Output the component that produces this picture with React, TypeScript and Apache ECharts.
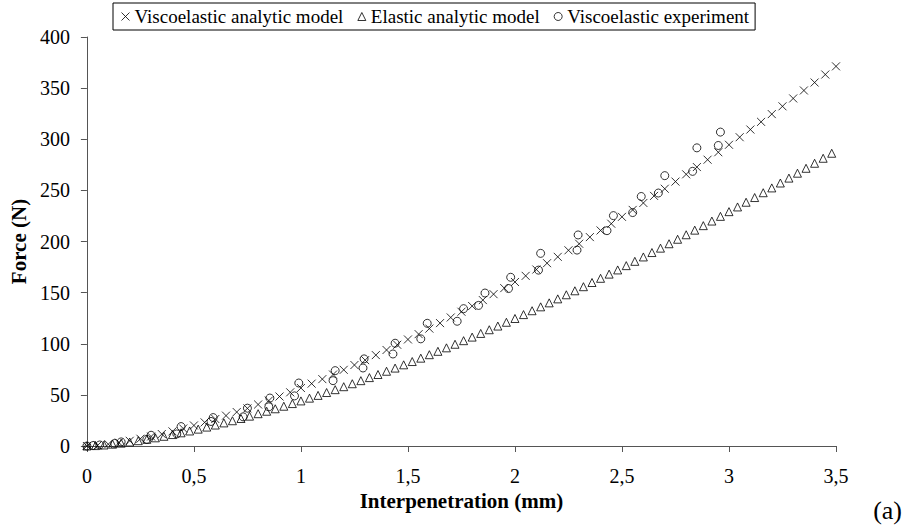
import React, { useEffect, useRef } from "react";
import * as echarts from "echarts";

// Viscoelastic analytic model (crosses), x step 0.05 mm
const viscoX = [
  0, 0.05, 0.1, 0.15, 0.2, 0.25, 0.3, 0.35, 0.4, 0.45, 0.5, 0.55, 0.6, 0.65, 0.7, 0.75, 0.8, 0.85, 0.9, 0.95,
  1, 1.05, 1.1, 1.15, 1.2, 1.25, 1.3, 1.35, 1.4, 1.45, 1.5, 1.55, 1.6, 1.65, 1.7, 1.75, 1.8, 1.85, 1.9, 1.95,
  2, 2.05, 2.1, 2.15, 2.2, 2.25, 2.3, 2.35, 2.4, 2.45, 2.5, 2.55, 2.6, 2.65, 2.7, 2.75, 2.8, 2.85, 2.9, 2.95,
  3, 3.05, 3.1, 3.15, 3.2, 3.25, 3.3, 3.35, 3.4, 3.45, 3.5,
];
const viscoF = [
  0, 0.6, 1.8, 3.3, 5.1, 7.1, 9.3, 11.7, 14.3, 17.1, 20.1, 23.1, 26.4, 29.7, 33.2, 36.8, 40.6, 44.4, 48.4, 52.5,
  56.7, 61.0, 65.4, 69.9, 74.5, 79.2, 84.0, 88.9, 93.9, 99.0, 104.2, 109.4, 114.8, 120.2, 125.7, 131.3, 136.9, 142.7, 148.5, 154.4,
  160.4, 166.4, 172.6, 178.8, 185.0, 191.4, 197.8, 204.3, 210.8, 217.4, 224.1, 230.9, 237.7, 244.6, 251.6, 258.6, 265.7, 272.8, 280.0, 287.3,
  294.6, 302.0, 309.5, 317.0, 324.6, 332.2, 339.9, 347.7, 355.5, 363.3, 371.3,
];

// Elastic analytic model (triangles), x step 0.04 mm
const elasticX = [
  0, 0.04, 0.08, 0.12, 0.16, 0.2, 0.24, 0.28, 0.32, 0.36, 0.4, 0.44, 0.48, 0.52, 0.56, 0.6, 0.64, 0.68, 0.72, 0.76,
  0.8, 0.84, 0.88, 0.92, 0.96, 1, 1.04, 1.08, 1.12, 1.16, 1.2, 1.24, 1.28, 1.32, 1.36, 1.4, 1.44, 1.48, 1.52, 1.56,
  1.6, 1.64, 1.68, 1.72, 1.76, 1.8, 1.84, 1.88, 1.92, 1.96, 2, 2.04, 2.08, 2.12, 2.16, 2.2, 2.24, 2.28, 2.32, 2.36,
  2.4, 2.44, 2.48, 2.52, 2.56, 2.6, 2.64, 2.68, 2.72, 2.76, 2.8, 2.84, 2.88, 2.92, 2.96, 3, 3.04, 3.08, 3.12, 3.16,
  3.2, 3.24, 3.28, 3.32, 3.36, 3.4, 3.44, 3.48,
];
const elasticF = [
  0, 0.4, 1.0, 1.8, 2.8, 3.9, 5.2, 6.5, 8.0, 9.5, 11.2, 12.9, 14.7, 16.5, 18.5, 20.5, 22.6, 24.7, 26.9, 29.2,
  31.6, 34.0, 36.4, 38.9, 41.5, 44.1, 46.8, 49.5, 52.3, 55.1, 58.0, 60.9, 63.9, 66.9, 69.9, 73.1, 76.2, 79.4, 82.6, 85.9,
  89.3, 92.6, 96.0, 99.5, 103.0, 106.5, 110.1, 113.7, 117.3, 121.0, 124.7, 128.5, 132.3, 136.1, 140.0, 143.9, 147.9, 151.8, 155.8, 159.9,
  164.0, 168.1, 172.2, 176.4, 180.6, 184.9, 189.2, 193.5, 197.8, 202.2, 206.6, 211.1, 215.5, 220.0, 224.6, 229.2, 233.8, 238.4, 243.0, 247.7,
  252.4, 257.2, 262.0, 266.8, 271.6, 276.5, 281.4, 286.3,
];

// Viscoelastic experiment (circles)
const expX = [
  0, 0.03, 0.06, 0.13, 0.16, 0.28, 0.3, 0.42, 0.44, 0.58, 0.59, 0.73, 0.75, 0.85, 0.855, 0.97, 0.99,
  1.15, 1.16, 1.29, 1.295, 1.43, 1.44, 1.56, 1.59, 1.73, 1.76, 1.83, 1.86, 1.97, 1.98, 2.11, 2.12,
  2.29, 2.295, 2.43, 2.46, 2.55, 2.59, 2.67, 2.7, 2.83, 2.85, 2.95, 2.96,
];
const expF = [
  0, 0.5, 1, 2.5, 4, 6.5, 10.5, 11.8, 19, 24, 27.8, 28.5, 37, 38.3, 46.9, 49, 61.6,
  63.9, 73.7, 76.3, 85.2, 90, 100.5, 104.8, 120, 122, 134.3, 137.5, 149.6, 154, 165, 172, 188.4,
  191.6, 206.4, 210.6, 225.3, 228.3, 244, 247.4, 264.4, 268.6, 291.6, 293.9, 307,
];

const xTicks = [0, 0.5, 1, 1.5, 2, 2.5, 3, 3.5];
const yTicks = [0, 50, 100, 150, 200, 250, 300, 350, 400];

const seriesNames = ["Viscoelastic analytic model", "Elastic analytic model", "Viscoelastic experiment"];

const FONT = '"Liberation Serif", "Times New Roman", Tinos, "DejaVu Serif", serif';
const CROSS = "path://M0,0L10,10M0,10L10,0";

const zip = (xs: number[], ys: number[]) => xs.map((x, i) => [x, ys[i]]);

export default function App() {
  const ref = useRef<HTMLDivElement>(null);
  useEffect(() => {
    if (!ref.current) return;
    const chart = echarts.init(ref.current, null, { renderer: "svg" });
    const hollow = { color: "none", borderColor: "#000", borderWidth: 1 };
    chart.setOption({
      animation: false,
      backgroundColor: "#fff",
      textStyle: { fontFamily: FONT, color: "#000" },
      grid: { left: 86, right: 69, top: 37, bottom: 83, containLabel: false },
      legend: {
        left: 113,
        top: 3,
        padding: [4, 6, 4, 6],
        borderColor: "#000",
        borderWidth: 1,
        itemGap: 12,
        itemWidth: 8,
        itemHeight: 8,
        textStyle: { fontFamily: FONT, fontSize: 19, color: "#000" },
        data: [
          { name: seriesNames[0], icon: CROSS, itemStyle: hollow },
          { name: seriesNames[1], icon: "triangle", itemStyle: hollow },
          { name: seriesNames[2], icon: "circle", itemStyle: hollow },
        ],
      },
      xAxis: {
        type: "value",
        min: xTicks[0],
        max: xTicks[xTicks.length - 1],
        interval: 0.5,
        name: "Interpenetration (mm)",
        nameLocation: "middle",
        nameGap: 39,
        nameTextStyle: { fontFamily: FONT, fontSize: 21, fontWeight: "bold", color: "#000" },
        axisLine: { show: true, onZero: false, lineStyle: { color: "#555", width: 1 } },
        axisTick: { show: true, inside: false, length: 6, lineStyle: { color: "#555" } },
        axisLabel: {
          fontFamily: FONT,
          fontSize: 20,
          color: "#000",
          margin: 20,
          formatter: (v: number) => String(v).replace(".", ","),
        },
        splitLine: { show: false },
      },
      yAxis: {
        type: "value",
        min: yTicks[0],
        max: yTicks[yTicks.length - 1],
        interval: 50,
        name: "Force (N)",
        nameLocation: "middle",
        nameGap: 50,
        nameRotate: 90,
        nameTextStyle: { fontFamily: FONT, fontSize: 21, fontWeight: "bold", color: "#000" },
        axisLine: { show: true, lineStyle: { color: "#555", width: 1 } },
        axisTick: { show: true, inside: false, length: 6, lineStyle: { color: "#555" } },
        axisLabel: { fontFamily: FONT, fontSize: 20, color: "#000", margin: 17 },
        splitLine: { show: false },
      },
      series: [
        {
          name: seriesNames[0],
          type: "scatter",
          symbol: CROSS,
          symbolSize: 8,
          itemStyle: hollow,
          data: zip(viscoX, viscoF),
          z: 3,
        },
        {
          name: seriesNames[1],
          type: "scatter",
          symbol: "triangle",
          symbolSize: 8,
          itemStyle: hollow,
          data: zip(elasticX, elasticF),
          z: 2,
        },
        {
          name: seriesNames[2],
          type: "scatter",
          symbol: "circle",
          symbolSize: 8,
          itemStyle: hollow,
          data: zip(expX, expF),
          z: 4,
        },
      ],
      graphic: [
        {
          type: "text",
          right: 3,
          top: 497,
          style: { text: "(a)", fontFamily: FONT, fontSize: 26, fill: "#000" },
        },
      ],
    });
    return () => chart.dispose();
  }, []);
  return (
    <div
      ref={ref}
      style={{ position: "fixed", left: 0, top: 0, width: 905, height: 529, background: "#fff" }}
    />
  );
}
